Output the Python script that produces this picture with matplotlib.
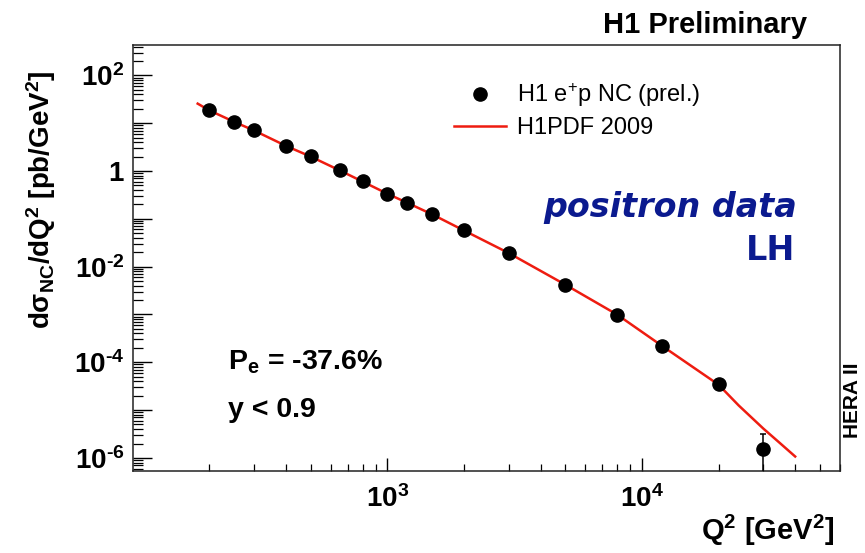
import numpy as np
import matplotlib
matplotlib.use("Agg")
import matplotlib.pyplot as plt
from matplotlib.ticker import LogLocator, FixedLocator, FuncFormatter, NullFormatter

plt.rcParams['font.family'] = ['Liberation Sans', 'DejaVu Sans']
plt.rcParams['mathtext.fontset'] = 'custom'
plt.rcParams['mathtext.rm'] = 'Liberation Sans'
plt.rcParams['mathtext.it'] = 'Liberation Sans:italic'
plt.rcParams['mathtext.bf'] = 'Liberation Sans:bold'

# H1 e+p NC data
q2_data = [200, 250, 300, 400, 500, 650, 800, 1000, 1200, 1500, 2000, 3000,
           5000, 8000, 12000, 20000, 30000]
xsec_data = [18.5, 10.7, 7.06, 3.38, 2.02, 1.03, 0.605, 0.335, 0.217, 0.124,
             0.057, 0.0192, 4.18e-3, 9.86e-4, 2.24e-4, 3.43e-5, 1.55e-6]
xsec_err = [0.3, 0.15, 0.1, 0.05, 0.03, 0.015, 0.01, 0.005, 0.004, 0.002,
            0.001, 0.0004, 1e-4, 3e-5, 9e-6, 2.5e-6, 1.65e-6]

# H1PDF 2009 prediction
q2_fit = [180, 200, 250, 300, 400, 500, 650, 800, 1000, 1200, 1500, 2000,
          3000, 5000, 8000, 12000, 20000, 24000, 30000, 35000, 40000]
xsec_fit = [25.6, 18.5, 10.7, 7.0, 3.35, 2.0, 1.03, 0.60, 0.335, 0.215, 0.124,
            0.057, 0.0192, 4.2e-3, 9.9e-4, 2.2e-4, 3.4e-5, 1.25e-5, 4.1e-6,
            2.0e-6, 1.07e-6]

x_major = [1e3, 1e4]

fig = plt.figure(figsize=(8.65, 5.53), dpi=100)
ax = fig.add_axes([0.1534, 0.1474, 0.8177, 0.7707])
ax.set_xscale('log')
ax.set_yscale('log')
ax.set_xlim(100, 6e4)
ax.set_ylim(5.2e-7, 4.25e2)

fit_line, = ax.plot(q2_fit, xsec_fit, color='#ee1c10', lw=1.8, zorder=2)

err_lo = [min(e, 0.9999 * v) for e, v in zip(xsec_err, xsec_data)]
ax.errorbar(q2_data, xsec_data, yerr=[err_lo, xsec_err], fmt='none',
            ecolor='black', elinewidth=1.1, capsize=2.5, capthick=1.1, zorder=3)
pts, = ax.plot(q2_data, xsec_data, 'o', color='black', ms=9.5, zorder=4)

# axis styling, ROOT-like
for s in ax.spines.values():
    s.set_linewidth(1.1)
    s.set_color('#222222')

ax.yaxis.set_major_locator(LogLocator(base=10, numticks=20))
ax.yaxis.set_minor_locator(LogLocator(base=10, subs=np.arange(2, 10), numticks=20))
ax.xaxis.set_major_locator(FixedLocator(x_major))
ax.xaxis.set_minor_locator(LogLocator(base=10, subs=np.arange(2, 10), numticks=20))


def ylab(v, pos):
    e = int(round(np.log10(v)))
    if e % 2:
        return ''
    if e == 0:
        return r'$\mathbf{1}$'
    if e < 0:
        return r'$\mathbf{10^{‐%d}}$' % (-e)
    return r'$\mathbf{10^{%d}}$' % e


def xlab(v, pos):
    return r'$\mathbf{10^{%d}}$' % int(round(np.log10(v)))


ax.yaxis.set_major_formatter(FuncFormatter(ylab))
ax.yaxis.set_minor_formatter(NullFormatter())
ax.xaxis.set_major_formatter(FuncFormatter(xlab))
ax.xaxis.set_minor_formatter(NullFormatter())

ax.tick_params(axis='y', which='major', direction='in', length=14, width=1.0,
               labelsize=20, pad=6, right=False)
ax.tick_params(axis='y', which='minor', direction='in', length=7, width=0.9,
               right=False)
ax.tick_params(axis='x', which='major', direction='in', length=9.5, width=1.0,
               labelsize=20, pad=10, top=False)
ax.tick_params(axis='x', which='minor', direction='in', length=5, width=0.9,
               top=False)

ax.set_ylabel(r'$\mathbf{d\sigma_{NC}/dQ^{2}\ [pb/GeV^{2}]}$', fontsize=20)
ax.yaxis.set_label_coords((58 - 132.7) / 707.3, (471.5 - 200) / 426.2)
fig.text(835 / 865, 1 - 530 / 553, r'$\mathbf{Q^{2}\ [GeV^{2}]}$',
         fontsize=21, ha='right', va='center')

ax.legend([pts, fit_line], [r'H1 e$^{+}$p NC (prel.)', 'H1PDF 2009'],
          loc='upper left', bbox_to_anchor=(454 / 865, 1 - 81 / 553),
          bbox_transform=fig.transFigure, frameon=False, fontsize=17,
          handlelength=2.2, handletextpad=0.45, borderpad=0,
          borderaxespad=0, labelspacing=0.35)

fig.text(807 / 865, 1 - 25 / 553, 'H1 Preliminary', fontsize=21,
         fontweight='bold', ha='right', va='center')
fig.text(797 / 865, 1 - 208 / 553, 'positron data', fontsize=24,
         fontweight='bold', style='italic', color='#0b1a8f', ha='right',
         va='center', family='DejaVu Sans')
fig.text(795 / 865, 1 - 250 / 553, 'LH', fontsize=24, fontweight='bold',
         color='#0b1a8f', ha='right', va='center', family='DejaVu Sans')
fig.text(228 / 865, 1 - 362 / 553, r'P$_{\mathbf{e}}$ = -37.6%', fontsize=20.5,
         fontweight='bold', ha='left', va='center')
fig.text(228 / 865, 1 - 410 / 553, 'y < 0.9', fontsize=20.5, fontweight='bold',
         ha='left', va='center')
fig.text(853 / 865, 1 - 400 / 553, 'HERA II', fontsize=15, fontweight='bold',
         rotation=90, ha='center', va='center')

fig.savefig('out.png', dpi=100)
